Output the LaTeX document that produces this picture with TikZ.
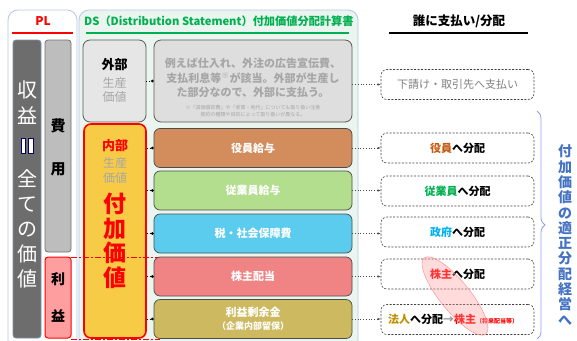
\documentclass[tikz,border=0pt]{standalone}
\usepackage{fontspec}
\setmainfont{Noto Sans CJK JP}
\usetikzlibrary{shapes.geometric,arrows.meta,decorations.pathreplacing}
\definecolor{panelb}{HTML}{B4C7E7}
\definecolor{dsfill}{HTML}{E9F5EE}
\definecolor{darkbar}{HTML}{6D6D6D}
\definecolor{darkbarb}{HTML}{7F8FA8}
\definecolor{graybar}{HTML}{BDBDBD}
\definecolor{pinkbar}{HTML}{FF9E9E}
\definecolor{extfill}{HTML}{E6E6E6}
\definecolor{descfill}{HTML}{DEDEDE}
\definecolor{yellowbox}{HTML}{F8CB46}
\definecolor{rowbrown}{HTML}{D38C5C}
\definecolor{rowgreen}{HTML}{B3DE8D}
\definecolor{rowcyan}{HTML}{5BCBEE}
\definecolor{rowsalmon}{HTML}{F08484}
\definecolor{rowolive}{HTML}{CDB960}
\definecolor{dsgreen}{HTML}{00B050}
\definecolor{lblbrown}{HTML}{C55A11}
\definecolor{lblcyan}{HTML}{00B0F0}
\definecolor{lblgold}{HTML}{BF9000}
\definecolor{bluetxt}{HTML}{4472C4}
\definecolor{graytxt}{HTML}{A6A6A6}
\definecolor{mygray}{HTML}{7F7F7F}
\begin{document}
\begin{tikzpicture}[x=1pt,y=-1pt,
  bar/.style={draw, rounded corners=3pt, inner sep=0pt, line width=0.8pt},
  gbox/.style={draw=black!65, rounded corners=7pt, inner sep=0pt, line width=0.8pt},
  rowbox/.style={draw=black!70, rounded corners=6pt, inner sep=0pt, line width=0.7pt, minimum width=198pt, minimum height=39pt, text=white, font=\fontsize{11}{13}\selectfont\bfseries},
  rbox/.style={draw=black!75, dashed, dash pattern=on 2pt off 1.5pt, rounded corners=6pt, inner sep=0pt, line width=0.6pt, minimum width=153pt, minimum height=30pt, font=\fontsize{11}{13}\selectfont\bfseries},
  dotc/.style={dotted, line width=0.8pt, -{Circle[length=2.5pt]}},
  darr/.style={dotted, line width=0.7pt, black!70, -{Latex[length=3pt,width=2.5pt]}},
  txt/.style={inner sep=0pt, align=center}
]
\useasboundingbox (0,0) rectangle (577,340);

% panels
\draw[draw=panelb, fill=white, rounded corners=10pt, line width=0.8pt] (8,360) rectangle (77,10);
\draw[draw=panelb, fill=dsfill, rounded corners=10pt, line width=0.8pt] (79,360) rectangle (358,10);

% PL header
\node[txt, text=red, font=\fontsize{12}{14}\selectfont\bfseries] (plt) at (43,21) {PL};
\coordinate (pla) at (12,33); \coordinate (plb) at (73,33);
\draw[red, line width=2.5pt] (pla) -- (plb);

% DS header
\node[txt, anchor=west, text=dsgreen, font=\fontsize{11.2}{14}\selectfont\bfseries] (dst) at (84,21) {DS（Distribution Statement）付加価値分配計算書};
\coordinate (dsa) at (86,33); \coordinate (dsb) at (349,33);
\draw[dsgreen, line width=2.5pt] (dsa) -- (dsb);

% Right header
\node[txt, font=\fontsize{12.5}{14}\selectfont\bfseries] (rht) at (459,21) {誰に支払い/分配};
\coordinate (rha) at (389,33); \coordinate (rhb) at (528,33);
\draw[black, line width=2.2pt] (rha) -- (rhb);

% PL bars
\node[bar, draw=darkbarb, fill=darkbar, minimum width=28pt, minimum height=298pt] (rev) at (27,189) {};
\node[txt, text=white, font=\fontsize{20}{26}\selectfont] (revA) at (27,103) {収\\益};
\fill[white, draw=blue!40!black, line width=0.5pt] (21,138) rectangle (25.5,153);
\fill[white, draw=blue!40!black, line width=0.5pt] (28.5,138) rectangle (33,153);
\node[txt, text=white, font=\fontsize{20}{25}\selectfont] (revB) at (27,229) {全\\て\\の\\価\\値};

\node[bar, draw=black!55, fill=graybar, minimum width=26pt, minimum height=212pt] (cost) at (58,146) {};
\node[txt, font=\fontsize{15}{43}\selectfont\bfseries] (costT) at (58,147) {費\\用};
\node[bar, draw=red, fill=pinkbar, line width=1pt, minimum width=26pt, minimum height=81pt] (prof) at (58,297.5) {};
\node[txt, font=\fontsize{14}{37}\selectfont\bfseries] (profT) at (58,297) {利\\益};

% external box
\node[gbox, fill=extfill, minimum width=63pt, minimum height=82pt] (ext) at (114.5,81) {};
\node[txt, font=\fontsize{13}{15}\selectfont\bfseries] (extA) at (114.5,65) {外部};
\node[txt, text=graytxt, font=\fontsize{12}{14}\selectfont] (extB) at (114.5,90) {生産\\価値};

\node[gbox, fill=descfill, minimum width=198pt, minimum height=82pt] (desc) at (253,81) {};
\node[txt, text=graytxt, font=\fontsize{11}{14.5}\selectfont\bfseries] (descT) at (253,78) {例えば仕入れ、外注の広告宣伝費、\\支払利息等\textsuperscript{※}が該当。外部が生産し\\た部分なので、外部に支払う。};
\node[txt, text=graytxt, font=\fontsize{5}{7}\selectfont] (descN) at (253,111.5) {※「減価償却費」や「家賃・地代」についても取り扱い注意\\契約の種類や目的によって取り扱いが異なる。};

% internal box
\node[gbox, draw=red, line width=1.6pt, fill=yellowbox, minimum width=62pt, minimum height=214pt] (intl) at (115,231) {};
\node[txt, text=red, font=\fontsize{13}{15}\selectfont\bfseries] (intA) at (115,146) {内部};
\node[txt, text=graytxt, font=\fontsize{12}{15}\selectfont] (intB) at (115,170) {生産\\価値};
\node[txt, text=red, font=\fontsize{23}{24.5}\selectfont\bfseries] (intC) at (115,241) {付\\加\\価\\値};

% red dashed line
\coordinate (rda) at (71,257); \coordinate (rdb) at (160,257);
\draw[red, line width=1pt, dash pattern=on 6pt off 2pt on 2pt off 2pt] (rda) -- (rdb);
\coordinate (rdc) at (71,339.5); \coordinate (rdd) at (160,339.5);
\draw[red, line width=1pt, dash pattern=on 6pt off 2pt on 2pt off 2pt] (rdc) -- (rdd);

% rows
\node[rowbox, fill=rowbrown] (r1) at (253,148) {役員給与};
\node[rowbox, fill=rowgreen] (r2) at (253,190.5) {従業員給与};
\node[rowbox, fill=rowcyan] (r3) at (253,233.5) {税・社会保障費};
\node[rowbox, fill=rowsalmon] (r4) at (253,276.5) {株主配当};
\node[rowbox, fill=rowolive, align=center] (r5) at (253,319) {利益剰余金\\{\fontsize{9}{11}\selectfont （企業内部留保）}};

% left connectors
\draw[dotc] (ext) -- (desc);
\foreach \r in {r1,r2,r3,r4,r5}{\draw[dotc] (intl.east |- \r.west) -- (\r.west);}

% right boxes
\node[rbox, text=mygray, font=\fontsize{11}{13}\selectfont] (q0) at (457.5,84.5) {下請け・取引先へ支払い};
\node[rbox] (q1) at (457.5,148) {\textcolor{lblbrown}{役員}へ分配};
\node[rbox] (q2) at (457.5,191) {\textcolor{dsgreen}{従業員}へ分配};
\node[rbox] (q3) at (457.5,232) {\textcolor{lblcyan}{政府}へ分配};
\node[rbox] (q4) at (457.5,274) {\textcolor{red}{株主}へ分配};
\node[rbox] (q5) at (457.5,319.5) {};
\node[txt, anchor=west, font=\fontsize{11}{13}\selectfont\bfseries] (q5t) at (388,319.5) {\textcolor{lblgold}{法人}へ分配\textcolor{black!40}{→}\textcolor{red}{株主}\textcolor{red}{\fontsize{6}{7}\selectfont （将来配当等）}};

% right arrows
\draw[darr] (desc.east |- q0.west) -- (q0.west);
\draw[darr] (r1.east) -- (r1.east -| q1.west);
\draw[darr] (r2.east) -- (r2.east -| q2.west);
\draw[darr] (r3.east) -- (r3.east -| q3.west);
\draw[darr] (r4.east) -- (r4.east -| q4.west);
\draw[darr] (r5.east) -- (r5.east -| q5.west);

% ellipse highlight
\node[ellipse, draw=red!45, fill=red!40, fill opacity=0.35, draw opacity=0.8, line width=0.6pt, minimum width=98pt, minimum height=30pt, rotate=-51] (hl) at (455,296) {};

% brace
\coordinate (bta) at (537,111); \coordinate (btb) at (537,339);
\draw[panelb!80!blue, line width=0.8pt, decorate, decoration={brace, amplitude=8pt}] (bta) -- (btb);

% vertical blue text
\node[txt, text=bluetxt, font=\fontsize{14}{15.3}\selectfont\bfseries] (vt) at (565,235) {付\\加\\価\\値\\の\\適\\正\\分\\配\\経\\営\\へ};
\end{tikzpicture}
\end{document}
